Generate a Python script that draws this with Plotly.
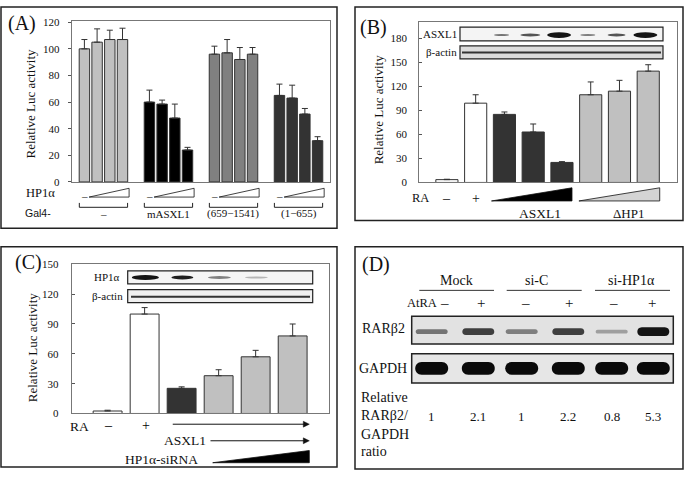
import plotly.graph_objects as go

W, H = 685, 477
SERIF = "Liberation Serif"
SANS = "Liberation Sans"

# ---------------- data ----------------
# Panel A
A_groups = ["–", "mASXL1", "(659−1541)", "(1−655)"]
A_vals = [[100, 105, 107, 107], [60, 58.5, 48, 24], [96, 97, 92, 96], [65, 63, 51, 31]]
A_errs = [[7, 10, 7, 8.5], [9, 3, 10.5, 2], [6, 10, 9, 5], [8.5, 9.7, 4.2, 3]]
A_colors = ["#c0c0c0", "#000000", "#808080", "#333333"]
A_ticks = [0, 20, 40, 60, 80, 100, 120]

# Panel B
B_vals = [3.5, 99, 85, 63, 25, 109.5, 114, 139]
B_errs = [0.5, 10.5, 3, 10, 1, 16, 13.5, 8]
B_colors = ["#ffffff", "#ffffff", "#333333", "#333333", "#333333", "#c0c0c0", "#c0c0c0", "#c0c0c0"]
B_ra = ["–", "+"]
B_ticks = [0, 30, 60, 90, 120, 150, 180]
B_asxl1_lanes = [2, 3, 4, 5, 6, 7]
B_asxl1_int = [0.55, 0.7, 1.0, 0.5, 0.7, 1.0]

# Panel C
C_vals = [2.5, 100, 25.3, 38, 57, 78]
C_errs = [0.8, 6.5, 1.5, 6, 6.5, 12]
C_colors = ["#ffffff", "#ffffff", "#333333", "#c0c0c0", "#c0c0c0", "#c0c0c0"]
C_ticks = [0, 30, 60, 90, 120, 150]
C_hp1_lanes = [1, 2, 3, 4]
C_hp1_int = [1.0, 0.95, 0.5, 0.25]

# Panel D
D_groups = ["Mock", "si-C", "si-HP1α"]
D_atra = ["–", "+", "–", "+", "–", "+"]
D_rar_int = [0.55, 0.8, 0.5, 0.8, 0.35, 1.0]
D_ratio = ["1", "2.1", "1", "2.2", "0.8", "5.3"]

# ---------------- helpers ----------------
def P(px):
    return px / W

def Q(py):
    return 1 - py / H

shapes = []
ann = []

def rect_px(x0, y0, x1, y1, fill="rgba(0,0,0,0)", lc="#222", lw=1.5):
    shapes.append(dict(type="rect", xref="paper", yref="paper", x0=P(x0), x1=P(x1),
                       y0=Q(y1), y1=Q(y0), fillcolor=fill, line=dict(color=lc, width=lw), layer="above"))

def line_px(x0, y0, x1, y1, color="#222", width=1):
    shapes.append(dict(type="line", xref="paper", yref="paper", x0=P(x0), x1=P(x1),
                       y0=Q(y0), y1=Q(y1), line=dict(color=color, width=width)))

def text(x, y, t, size=12, xanchor="center", family=SERIF, angle=0, color="#111"):
    ann.append(dict(x=P(x), y=Q(y), xref="paper", yref="paper", text=t,
                    showarrow=False, xanchor=xanchor, yanchor="middle", textangle=angle,
                    font=dict(family=family, size=size, color=color)))

def axtext(xref, x, y, t, size=12):
    ann.append(dict(x=x, y=Q(y), xref=xref, yref="paper", text=t, showarrow=False,
                    xanchor="center", yanchor="middle", font=dict(family=SERIF, size=size, color="#111")))

def gray(i):
    g = int(235 - 215 * i)
    return f"rgb({g},{g},{g})"

def path_axis(xref, pts, fill, lc="#111", lw=1):
    d = "M " + " L ".join(f"{x},{Q(y)}" for x, y in pts) + " Z"
    shapes.append(dict(type="path", xref=xref, yref="paper", path=d, fillcolor=fill,
                       line=dict(color=lc, width=lw)))

def stadium_px(cx, cy, w, h, fill):
    r = h / 2
    x0, x1 = cx - w / 2, cx + w / 2
    t, b = cy - r, cy + r
    k = 1.33 * r
    d = (f"M {P(x0 + r)},{Q(t)} L {P(x1 - r)},{Q(t)} "
         f"C {P(x1 - r + k)},{Q(t)} {P(x1 - r + k)},{Q(b)} {P(x1 - r)},{Q(b)} "
         f"L {P(x0 + r)},{Q(b)} "
         f"C {P(x0 + r - k)},{Q(b)} {P(x0 + r - k)},{Q(t)} {P(x0 + r)},{Q(t)} Z")
    shapes.append(dict(type="path", xref="paper", yref="paper", path=d, fillcolor=fill,
                       line=dict(width=0)))

fig = go.Figure()
err_style = dict(type="data", symmetric=False, color="#333", thickness=1, width=3)

# ---------------- Panel A ----------------
A_GAP = 5.12
for g, (vals, errs, col) in enumerate(zip(A_vals, A_errs, A_colors)):
    xs = [g * A_GAP + i for i in range(len(vals))]
    fig.add_trace(go.Bar(x=xs, y=vals, width=0.82, marker=dict(color=col, line=dict(color="#333", width=1)),
                         error_y=dict(array=errs, arrayminus=[0] * len(errs), **err_style),
                         xaxis="x", yaxis="y", showlegend=False, hoverinfo="skip"))
    c0 = g * A_GAP
    axtext("x", c0, 195, "–", size=11)
    path_axis("x", [(c0 + 0.37, 196), (c0 + 3.52, 196), (c0 + 3.52, 187)], "#ffffff", lw=0.8)
    shapes.append(dict(type="path", xref="x", yref="paper",
                       path=f"M {c0-0.4},{Q(202)} L {c0-0.4},{Q(206.5)} L {c0+3.4},{Q(206.5)} L {c0+3.4},{Q(202)}",
                       line=dict(color="#222", width=1)))
    axtext("x", c0 + 1.5, 213, A_groups[g], size=11)

text(40, 192, "HP1α", size=12.5)
text(38, 212, "Gal4-", size=10.5, family=SANS)
text(22, 18, "(A)", size=20)
text(30, 100, "Relative Luc activity", size=13, angle=-90)

# ---------------- Panel B ----------------
fig.add_trace(go.Bar(x=list(range(len(B_vals))), y=B_vals, width=0.77,
                     marker=dict(color=B_colors, line=dict(color="#333", width=1)),
                     error_y=dict(array=B_errs, arrayminus=[0] * len(B_errs), **err_style),
                     xaxis="x2", yaxis="y2", showlegend=False, hoverinfo="skip"))
B_ppu = (676.7 - 419.3) / (7.99 + 0.96)
for i, s in enumerate(B_ra):
    axtext("x2", i, 197, s, size=14)
text(420, 197, "RA", size=12.5)
path_axis("x2", [(1.55, 200), (4.35, 200), (4.35, 186.5)], "#000000", lw=0.8)
path_axis("x2", [(4.59, 200), (7.4, 200), (7.4, 186.5)], "#d4d4d4", lw=0.8)
axtext("x2", 3.23, 213, "ASXL1", size=13.5)
axtext("x2", 6.3, 213, "ΔHP1", size=13)
text(374, 22, "(B)", size=20)
text(378, 106, "Relative Luc activity", size=13, angle=-90)
rect_px(460, 21.7, 663, 35.7, fill="#f4f4f4", lw=1.2)
rect_px(460, 41, 663, 54.3, fill="#dcdcdc", lw=1.2)
text(459, 29, "ASXL1", size=11, xanchor="right")
text(459, 47.5, "β-actin", size=11, xanchor="right")
B_w = [15, 20, 24, 15, 18, 24]
B_h = [2, 3, 6, 2, 3, 6]
for lane, inten, w, h in zip(B_asxl1_lanes, B_asxl1_int, B_w, B_h):
    hw = w / 2 / B_ppu
    shapes.append(dict(type="circle", xref="x2", yref="paper", x0=lane - 0.1 - hw, x1=lane - 0.1 + hw,
                       y0=Q(29.8 + h / 2), y1=Q(29.8 - h / 2), fillcolor=gray(inten), line=dict(width=0)))
shapes.append(dict(type="line", xref="paper", yref="paper", x0=P(462), x1=P(661), y0=Q(47.8), y1=Q(47.8),
                   line=dict(color="#333", width=2)))

# ---------------- Panel C ----------------
fig.add_trace(go.Bar(x=list(range(len(C_vals))), y=C_vals, width=0.78,
                     marker=dict(color=C_colors, line=dict(color="#333", width=1)),
                     error_y=dict(array=C_errs, arrayminus=[0] * len(C_errs), **err_style),
                     xaxis="x3", yaxis="y3", showlegend=False, hoverinfo="skip"))
C_ppu = (329.3 - 71.7) / (5.99 + 0.97)
text(108, 430, B_ra[0], size=14, color="#000000")
text(146, 430, B_ra[1], size=14, color="#000000")
text(79, 431, "RA", size=13.5)

def arrow_x3(x0, x1, y):
    shapes.append(dict(type="line", xref="x3", yref="paper", x0=x0, x1=x1 - 0.05, y0=Q(y), y1=Q(y),
                       line=dict(color="#111", width=1)))
    hl = 6 / C_ppu
    path_axis("x3", [(x1 - hl, y - 3), (x1, y), (x1 - hl, y + 3)], "#111", lw=0.5)

arrow_x3(1.76, 5.45, 429)
arrow_x3(2.78, 5.45, 446)
axtext("x3", 2.09, 446, "ASXL1", size=13.5)
axtext("x3", 1.45, 465.5, "HP1α-siRNA", size=13.5)
path_axis("x3", [(2.84, 468.5), (5.45, 468.5), (5.45, 456)], "#000000", lw=0.8)
text(28, 263, "(C)", size=20)
text(32, 350, "Relative Luc activity", size=13, angle=-90)
rect_px(127.7, 271.7, 312.7, 285, fill="#f4f4f4", lw=1.2)
rect_px(127.7, 291, 312.7, 304.3, fill="#f0f0f0", lw=1.2)
text(122, 278.5, "HP1α", size=11, xanchor="right")
text(125, 297.8, "β-actin", size=11, xanchor="right")
C_w = [27, 22, 23, 23]
C_h = [5, 4, 3, 2]
for lane, inten, w, h in zip(C_hp1_lanes, C_hp1_int, C_w, C_h):
    hw = w / 2 / C_ppu
    shapes.append(dict(type="circle", xref="x3", yref="paper", x0=lane + 0.02 - hw, x1=lane + 0.02 + hw,
                       y0=Q(278.5 + h / 2), y1=Q(278.5 - h / 2), fillcolor=gray(inten), line=dict(width=0)))
shapes.append(dict(type="line", xref="paper", yref="paper", x0=P(131), x1=P(310), y0=Q(298.3), y1=Q(298.3),
                   line=dict(color="#333", width=2)))

# ---------------- Panel D ----------------
D_lane_px = [431.7, 478.3, 521.7, 568.3, 611.7, 653.3]
D_sign_px = [444, 481, 525, 569.3, 613.3, 652]
text(376, 265, "(D)", size=20)
D_hdr = [(456.7, 419.3, 494), (536.7, 506.7, 581.7), (631.7, 595, 670)]
for name, (cx, l0, l1) in zip(D_groups, D_hdr):
    text(cx, 281.5, name, size=14)
    line_px(l0, 291.7, l1, 291.7, color="#333", width=1)
text(439, 305, "AtRA", size=12.5, xanchor="right")
for xp, s in zip(D_sign_px, D_atra):
    text(xp, 305, s, size=15)
rect_px(411.7, 318.3, 673.3, 346.7, fill="#e2e2e2", lw=1.5)
rect_px(411.7, 356.7, 673.3, 386.7, fill="#e6e6e6", lw=1.5)
text(383, 331, "RARβ2", size=14)
text(383, 372, "GAPDH", size=14)
D_h = [5, 7, 5, 7, 4, 9]
for xp, inten, h in zip(D_lane_px, D_rar_int, D_h):
    stadium_px(xp, 334, 32, h, gray(inten))
for xp in D_lane_px:
    stadium_px(xp, 371.7, 33, 13, "#0a0a0a")
for yy, t in zip([401.7, 420, 439.3, 457.3], ["Relative", "RARβ2/", "GAPDH", "ratio"]):
    text(359, yy, t, size=14, xanchor="left")
for xp, t in zip(D_lane_px, D_ratio):
    text(xp, 421, t, size=13)

# ---------------- panel borders ----------------
rect_px(1, 1, 337, 228)
rect_px(355, 1, 683, 220)
rect_px(1, 247, 337, 473)
rect_px(355, 247, 683, 475)

# ---------------- axes ----------------
def yax(dom, rng, ticks, ticks_dir, standoff):
    return dict(domain=dom, range=rng, tickvals=ticks, ticks=ticks_dir, ticklen=3, tickcolor="#555",
                showline=True, linecolor="#777", linewidth=1, mirror=True, showgrid=False, zeroline=False,
                tickfont=dict(family=SERIF, size=11, color="#111"), ticklabelstandoff=standoff, fixedrange=True)

def xax(dom, rng):
    return dict(domain=dom, range=rng, showticklabels=False, ticks="", showline=True, linecolor="#777",
                linewidth=1, mirror=True, showgrid=False, zeroline=False, fixedrange=True)

fig.update_layout(
    width=W, height=H, margin=dict(l=0, r=0, t=0, b=0), paper_bgcolor="white", plot_bgcolor="white",
    xaxis=dict(**xax([P(71.7), P(329.5)], [-1, 19.3]), anchor="y"),
    yaxis=dict(**yax([Q(180.5), Q(15)], [0, 121.2], A_ticks, "outside", 6), anchor="x"),
    xaxis2=dict(**xax([P(419.3), P(676.7)], [-0.96, 7.99]), anchor="y2"),
    yaxis2=dict(**yax([Q(181), Q(16.7)], [0, 200], B_ticks, "inside", 9), anchor="x2"),
    xaxis3=dict(**xax([P(71.7), P(329.3)], [-0.97, 5.99]), anchor="y3"),
    yaxis3=dict(**yax([Q(418), Q(265)], [0, 150], C_ticks, "inside", 10), anchor="x3"),
    shapes=shapes, annotations=ann, showlegend=False, barmode="overlay",
)

fig.write_html("out.html", config={"displayModeBar": False},
               post_script="document.body.style.margin='0';document.body.style.overflow='hidden';")
